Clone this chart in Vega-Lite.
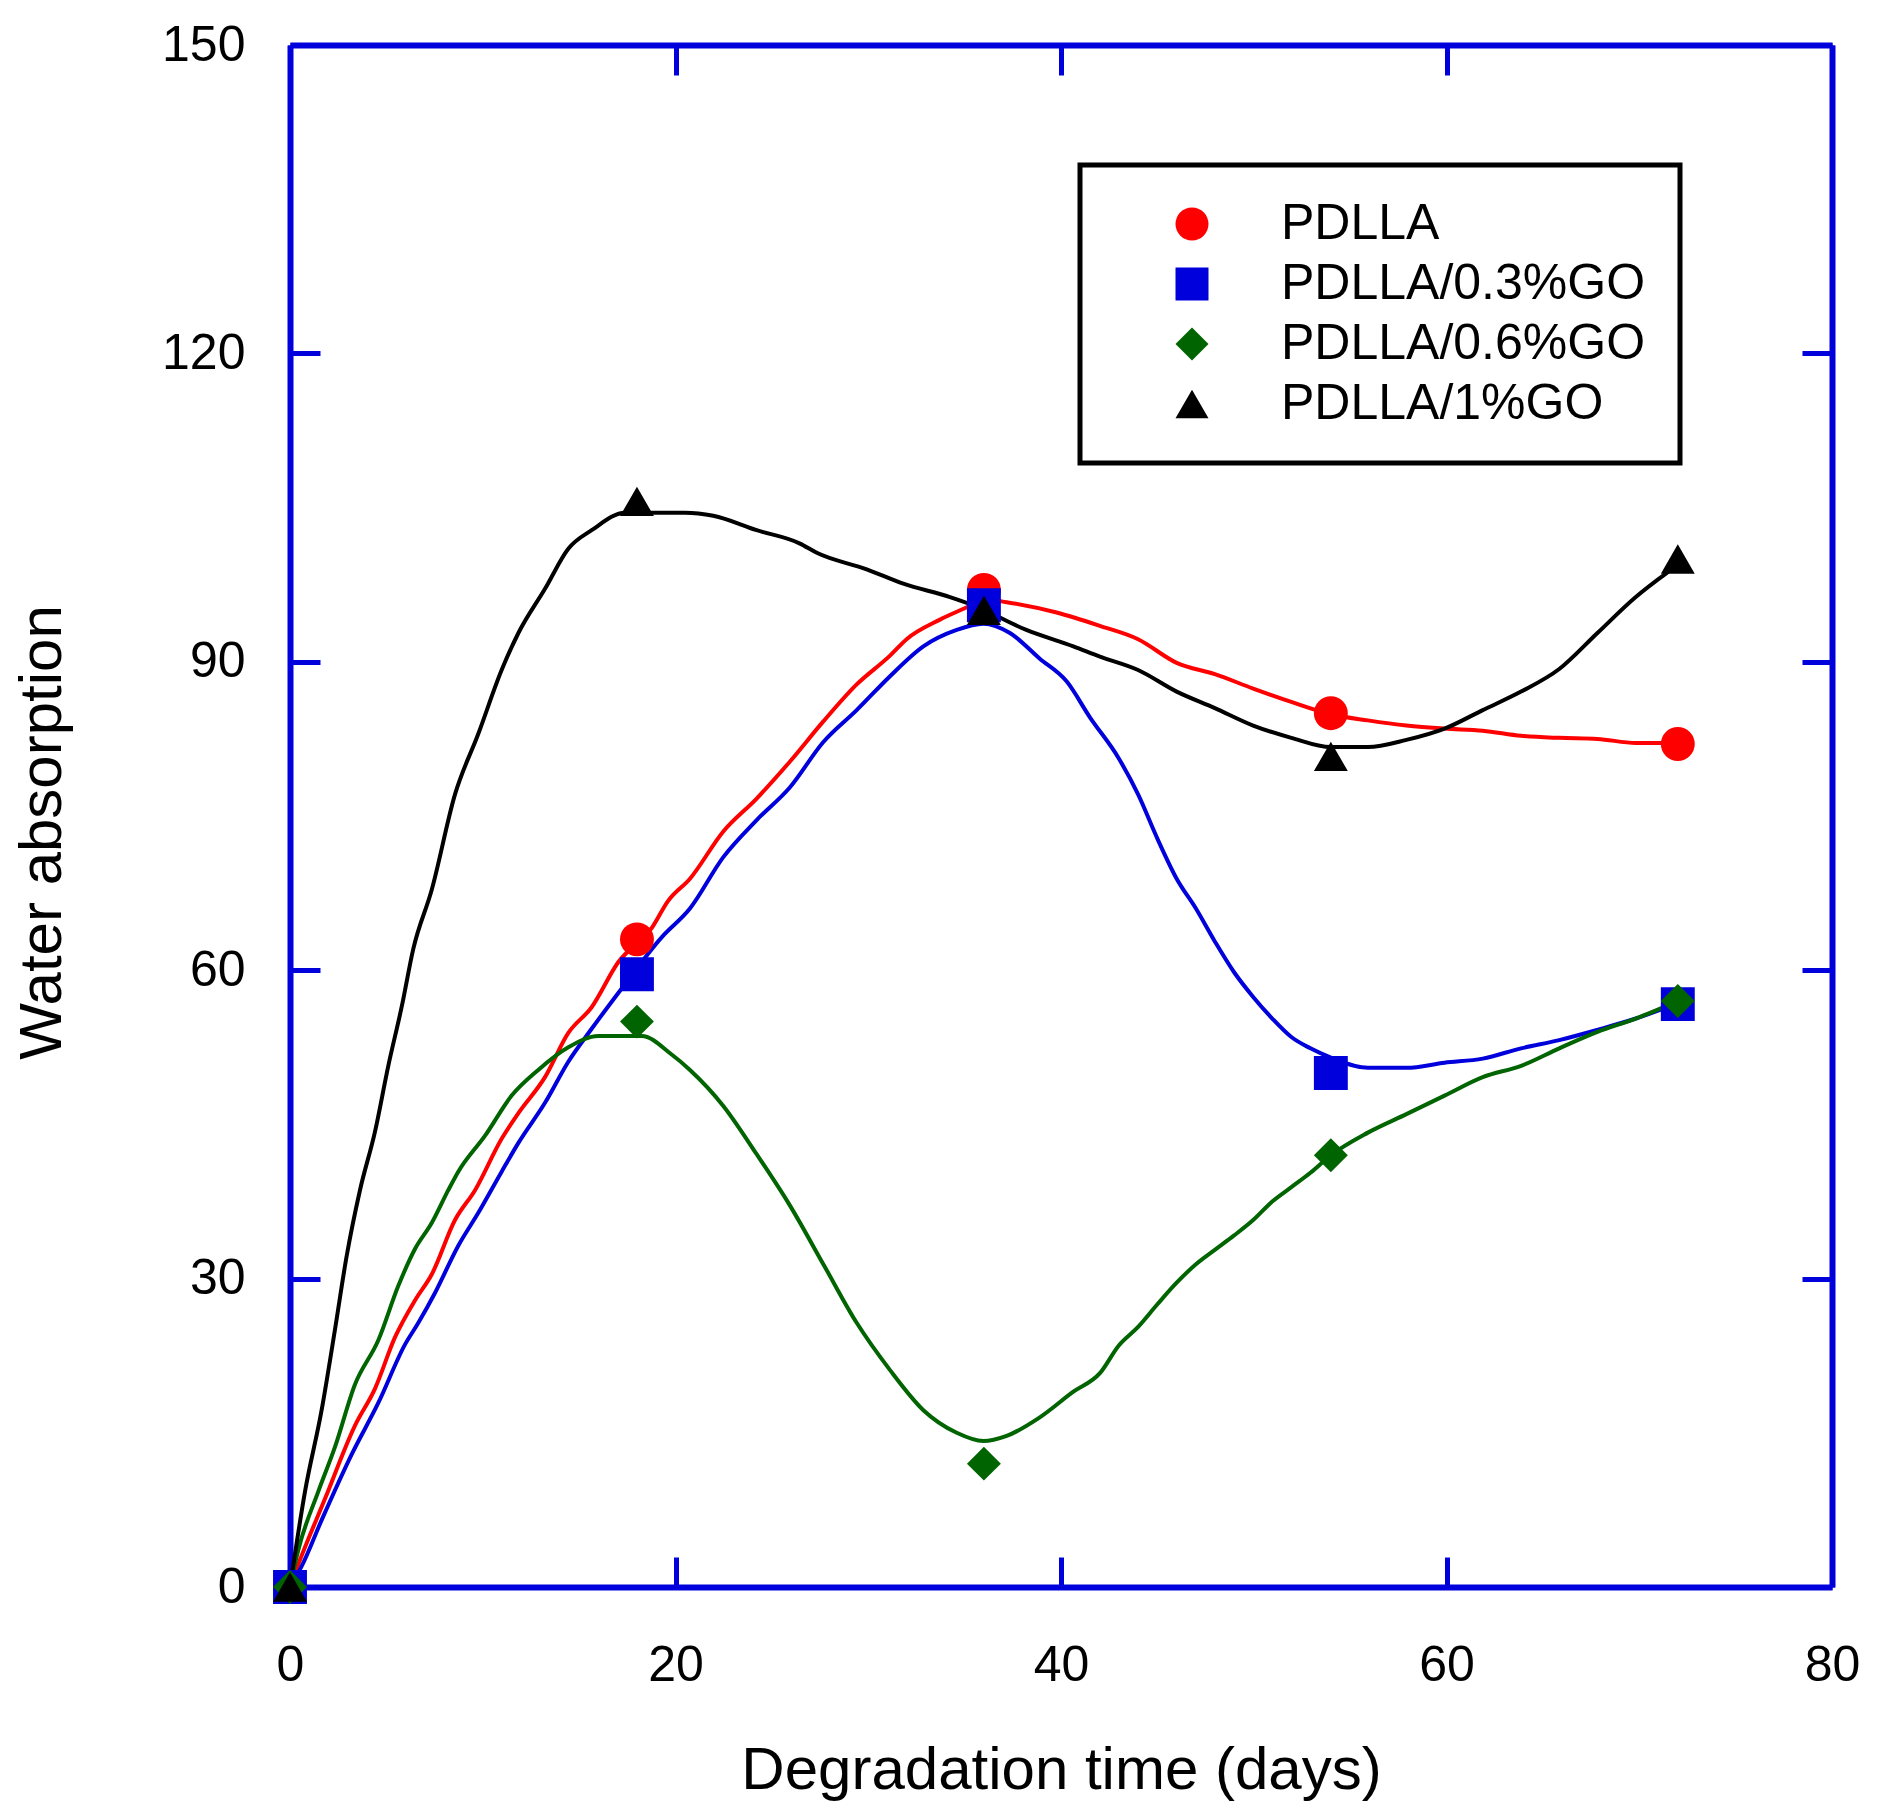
{
  "$schema": "https://vega.github.io/schema/vega-lite/v6.json",
  "description": "Water absorption vs degradation time",
  "width": 1542,
  "height": 1542,
  "autosize": "none",
  "padding": {"left": 290, "top": 45, "right": 46, "bottom": 224},
  "background": "white",
  "datasets": {
    "curve": [
      {"series": "PDLLA", "day": 0, "value": 0},
      {"series": "PDLLA", "day": 0.43, "value": 2.2},
      {"series": "PDLLA", "day": 1.82, "value": 8.6},
      {"series": "PDLLA", "day": 3.37, "value": 15.7},
      {"series": "PDLLA", "day": 4.41, "value": 19.3},
      {"series": "PDLLA", "day": 5.45, "value": 24.3},
      {"series": "PDLLA", "day": 6.49, "value": 27.9},
      {"series": "PDLLA", "day": 7.35, "value": 30.4},
      {"series": "PDLLA", "day": 8.56, "value": 35.7},
      {"series": "PDLLA", "day": 9.6, "value": 38.6},
      {"series": "PDLLA", "day": 10.98, "value": 43.6},
      {"series": "PDLLA", "day": 11.85, "value": 46.1},
      {"series": "PDLLA", "day": 13.23, "value": 49.6},
      {"series": "PDLLA", "day": 14.44, "value": 53.9},
      {"series": "PDLLA", "day": 15.65, "value": 56.4},
      {"series": "PDLLA", "day": 17.0, "value": 60.7},
      {"series": "PDLLA", "day": 18.8, "value": 64.2},
      {"series": "PDLLA", "day": 19.6, "value": 66.7},
      {"series": "PDLLA", "day": 20.75, "value": 68.9},
      {"series": "PDLLA", "day": 22.48, "value": 73.5},
      {"series": "PDLLA", "day": 24.21, "value": 76.7},
      {"series": "PDLLA", "day": 25.94, "value": 80.3},
      {"series": "PDLLA", "day": 27.67, "value": 84.2},
      {"series": "PDLLA", "day": 29.4, "value": 87.8},
      {"series": "PDLLA", "day": 31.13, "value": 90.6},
      {"series": "PDLLA", "day": 31.99, "value": 92.2},
      {"series": "PDLLA", "day": 33.72, "value": 94.1},
      {"series": "PDLLA", "day": 35.11, "value": 95.3},
      {"series": "PDLLA", "day": 36.0, "value": 96.1},
      {"series": "PDLLA", "day": 37.18, "value": 95.8},
      {"series": "PDLLA", "day": 39.77, "value": 94.8},
      {"series": "PDLLA", "day": 42.02, "value": 93.5},
      {"series": "PDLLA", "day": 44.0, "value": 92.2},
      {"series": "PDLLA", "day": 46.0, "value": 89.9},
      {"series": "PDLLA", "day": 47.98, "value": 88.8},
      {"series": "PDLLA", "day": 49.97, "value": 87.4},
      {"series": "PDLLA", "day": 51.95, "value": 86.1},
      {"series": "PDLLA", "day": 54.0, "value": 84.9},
      {"series": "PDLLA", "day": 55.92, "value": 84.3},
      {"series": "PDLLA", "day": 57.92, "value": 83.8},
      {"series": "PDLLA", "day": 59.9, "value": 83.5},
      {"series": "PDLLA", "day": 61.88, "value": 83.3},
      {"series": "PDLLA", "day": 63.87, "value": 82.8},
      {"series": "PDLLA", "day": 65.85, "value": 82.6},
      {"series": "PDLLA", "day": 67.83, "value": 82.5},
      {"series": "PDLLA", "day": 69.82, "value": 82.1},
      {"series": "PDLLA", "day": 72.0, "value": 82.1},
      {"series": "PDLLA/0.3%GO", "day": 0, "value": 0},
      {"series": "PDLLA/0.3%GO", "day": 0.6, "value": 2.0},
      {"series": "PDLLA/0.3%GO", "day": 1.64, "value": 6.5},
      {"series": "PDLLA/0.3%GO", "day": 3.2, "value": 12.9},
      {"series": "PDLLA/0.3%GO", "day": 4.58, "value": 17.9},
      {"series": "PDLLA/0.3%GO", "day": 5.97, "value": 23.6},
      {"series": "PDLLA/0.3%GO", "day": 6.66, "value": 25.7},
      {"series": "PDLLA/0.3%GO", "day": 7.52, "value": 28.6},
      {"series": "PDLLA/0.3%GO", "day": 8.73, "value": 33.2},
      {"series": "PDLLA/0.3%GO", "day": 9.77, "value": 36.4},
      {"series": "PDLLA/0.3%GO", "day": 10.98, "value": 40.4},
      {"series": "PDLLA/0.3%GO", "day": 11.85, "value": 43.2},
      {"series": "PDLLA/0.3%GO", "day": 13.23, "value": 47.1},
      {"series": "PDLLA/0.3%GO", "day": 14.44, "value": 51.1},
      {"series": "PDLLA/0.3%GO", "day": 15.65, "value": 54.3},
      {"series": "PDLLA/0.3%GO", "day": 17.2, "value": 58.2},
      {"series": "PDLLA/0.3%GO", "day": 19.28, "value": 63.2},
      {"series": "PDLLA/0.3%GO", "day": 20.75, "value": 66.0},
      {"series": "PDLLA/0.3%GO", "day": 22.48, "value": 71.0},
      {"series": "PDLLA/0.3%GO", "day": 24.21, "value": 74.6},
      {"series": "PDLLA/0.3%GO", "day": 25.94, "value": 77.8},
      {"series": "PDLLA/0.3%GO", "day": 27.67, "value": 82.2},
      {"series": "PDLLA/0.3%GO", "day": 29.4, "value": 85.3},
      {"series": "PDLLA/0.3%GO", "day": 31.13, "value": 88.6},
      {"series": "PDLLA/0.3%GO", "day": 32.86, "value": 91.5},
      {"series": "PDLLA/0.3%GO", "day": 34.59, "value": 93.1},
      {"series": "PDLLA/0.3%GO", "day": 35.97, "value": 93.7},
      {"series": "PDLLA/0.3%GO", "day": 37.35, "value": 92.8},
      {"series": "PDLLA/0.3%GO", "day": 38.9, "value": 90.3},
      {"series": "PDLLA/0.3%GO", "day": 40.29, "value": 88.1},
      {"series": "PDLLA/0.3%GO", "day": 41.5, "value": 84.6},
      {"series": "PDLLA/0.3%GO", "day": 43.0, "value": 80.6},
      {"series": "PDLLA/0.3%GO", "day": 44.0, "value": 77.1},
      {"series": "PDLLA/0.3%GO", "day": 45.0, "value": 72.8},
      {"series": "PDLLA/0.3%GO", "day": 46.0, "value": 68.9},
      {"series": "PDLLA/0.3%GO", "day": 47.0, "value": 66.0},
      {"series": "PDLLA/0.3%GO", "day": 47.98, "value": 62.8},
      {"series": "PDLLA/0.3%GO", "day": 48.98, "value": 59.8},
      {"series": "PDLLA/0.3%GO", "day": 49.97, "value": 57.4},
      {"series": "PDLLA/0.3%GO", "day": 50.96, "value": 55.3},
      {"series": "PDLLA/0.3%GO", "day": 51.95, "value": 53.5},
      {"series": "PDLLA/0.3%GO", "day": 52.94, "value": 52.4},
      {"series": "PDLLA/0.3%GO", "day": 54.0, "value": 51.5},
      {"series": "PDLLA/0.3%GO", "day": 55.92, "value": 50.5},
      {"series": "PDLLA/0.3%GO", "day": 57.92, "value": 50.5},
      {"series": "PDLLA/0.3%GO", "day": 59.9, "value": 51.0},
      {"series": "PDLLA/0.3%GO", "day": 61.88, "value": 51.4},
      {"series": "PDLLA/0.3%GO", "day": 63.87, "value": 52.4},
      {"series": "PDLLA/0.3%GO", "day": 65.85, "value": 53.2},
      {"series": "PDLLA/0.3%GO", "day": 67.83, "value": 54.2},
      {"series": "PDLLA/0.3%GO", "day": 69.82, "value": 55.3},
      {"series": "PDLLA/0.3%GO", "day": 72.0, "value": 56.8},
      {"series": "PDLLA/0.6%GO", "day": 0, "value": 0},
      {"series": "PDLLA/0.6%GO", "day": 0.43, "value": 3.6},
      {"series": "PDLLA/0.6%GO", "day": 1.47, "value": 9.3},
      {"series": "PDLLA/0.6%GO", "day": 2.33, "value": 13.6},
      {"series": "PDLLA/0.6%GO", "day": 3.37, "value": 19.7},
      {"series": "PDLLA/0.6%GO", "day": 4.58, "value": 24.0},
      {"series": "PDLLA/0.6%GO", "day": 5.62, "value": 29.3},
      {"series": "PDLLA/0.6%GO", "day": 6.49, "value": 32.9},
      {"series": "PDLLA/0.6%GO", "day": 7.35, "value": 35.4},
      {"series": "PDLLA/0.6%GO", "day": 8.21, "value": 38.6},
      {"series": "PDLLA/0.6%GO", "day": 8.73, "value": 40.4},
      {"series": "PDLLA/0.6%GO", "day": 10.12, "value": 43.9},
      {"series": "PDLLA/0.6%GO", "day": 11.5, "value": 47.8},
      {"series": "PDLLA/0.6%GO", "day": 12.88, "value": 50.3},
      {"series": "PDLLA/0.6%GO", "day": 14.44, "value": 52.5},
      {"series": "PDLLA/0.6%GO", "day": 16.0, "value": 53.6},
      {"series": "PDLLA/0.6%GO", "day": 18.25, "value": 53.6},
      {"series": "PDLLA/0.6%GO", "day": 19.8, "value": 51.8},
      {"series": "PDLLA/0.6%GO", "day": 20.75, "value": 50.3},
      {"series": "PDLLA/0.6%GO", "day": 22.48, "value": 46.8},
      {"series": "PDLLA/0.6%GO", "day": 24.21, "value": 42.1},
      {"series": "PDLLA/0.6%GO", "day": 25.94, "value": 37.1},
      {"series": "PDLLA/0.6%GO", "day": 27.67, "value": 31.4},
      {"series": "PDLLA/0.6%GO", "day": 29.4, "value": 25.7},
      {"series": "PDLLA/0.6%GO", "day": 31.13, "value": 21.1},
      {"series": "PDLLA/0.6%GO", "day": 32.86, "value": 17.2},
      {"series": "PDLLA/0.6%GO", "day": 34.59, "value": 15.0},
      {"series": "PDLLA/0.6%GO", "day": 35.97, "value": 14.2},
      {"series": "PDLLA/0.6%GO", "day": 37.18, "value": 14.7},
      {"series": "PDLLA/0.6%GO", "day": 38.9, "value": 16.5},
      {"series": "PDLLA/0.6%GO", "day": 40.64, "value": 19.0},
      {"series": "PDLLA/0.6%GO", "day": 42.02, "value": 20.8},
      {"series": "PDLLA/0.6%GO", "day": 43.0, "value": 23.5},
      {"series": "PDLLA/0.6%GO", "day": 44.0, "value": 25.3},
      {"series": "PDLLA/0.6%GO", "day": 45.0, "value": 27.5},
      {"series": "PDLLA/0.6%GO", "day": 46.0, "value": 29.6},
      {"series": "PDLLA/0.6%GO", "day": 47.0, "value": 31.4},
      {"series": "PDLLA/0.6%GO", "day": 47.98, "value": 32.8},
      {"series": "PDLLA/0.6%GO", "day": 48.98, "value": 34.2},
      {"series": "PDLLA/0.6%GO", "day": 49.97, "value": 35.7},
      {"series": "PDLLA/0.6%GO", "day": 50.96, "value": 37.5},
      {"series": "PDLLA/0.6%GO", "day": 51.95, "value": 38.9},
      {"series": "PDLLA/0.6%GO", "day": 52.94, "value": 40.3},
      {"series": "PDLLA/0.6%GO", "day": 54.0, "value": 42.0},
      {"series": "PDLLA/0.6%GO", "day": 55.92, "value": 44.2},
      {"series": "PDLLA/0.6%GO", "day": 57.92, "value": 46.0},
      {"series": "PDLLA/0.6%GO", "day": 59.9, "value": 47.8},
      {"series": "PDLLA/0.6%GO", "day": 61.88, "value": 49.6},
      {"series": "PDLLA/0.6%GO", "day": 63.87, "value": 50.7},
      {"series": "PDLLA/0.6%GO", "day": 65.85, "value": 52.4},
      {"series": "PDLLA/0.6%GO", "day": 67.83, "value": 54.0},
      {"series": "PDLLA/0.6%GO", "day": 69.82, "value": 55.3},
      {"series": "PDLLA/0.6%GO", "day": 72.0, "value": 57.0},
      {"series": "PDLLA/1%GO", "day": 0, "value": 0},
      {"series": "PDLLA/1%GO", "day": 0.78, "value": 9.3},
      {"series": "PDLLA/1%GO", "day": 1.64, "value": 17.2},
      {"series": "PDLLA/1%GO", "day": 2.33, "value": 25.0},
      {"series": "PDLLA/1%GO", "day": 2.94, "value": 32.2},
      {"series": "PDLLA/1%GO", "day": 3.63, "value": 38.6},
      {"series": "PDLLA/1%GO", "day": 4.41, "value": 44.3},
      {"series": "PDLLA/1%GO", "day": 5.1, "value": 50.7},
      {"series": "PDLLA/1%GO", "day": 5.79, "value": 56.4},
      {"series": "PDLLA/1%GO", "day": 6.4, "value": 62.1},
      {"series": "PDLLA/1%GO", "day": 7.35, "value": 67.8},
      {"series": "PDLLA/1%GO", "day": 8.56, "value": 77.1},
      {"series": "PDLLA/1%GO", "day": 9.77, "value": 83.0},
      {"series": "PDLLA/1%GO", "day": 10.98, "value": 89.2},
      {"series": "PDLLA/1%GO", "day": 11.85, "value": 92.8},
      {"series": "PDLLA/1%GO", "day": 13.23, "value": 97.1},
      {"series": "PDLLA/1%GO", "day": 14.44, "value": 101.0},
      {"series": "PDLLA/1%GO", "day": 15.65, "value": 102.8},
      {"series": "PDLLA/1%GO", "day": 17.38, "value": 104.5},
      {"series": "PDLLA/1%GO", "day": 20.5, "value": 104.5},
      {"series": "PDLLA/1%GO", "day": 21.96, "value": 104.2},
      {"series": "PDLLA/1%GO", "day": 24.21, "value": 102.8},
      {"series": "PDLLA/1%GO", "day": 26.46, "value": 101.5},
      {"series": "PDLLA/1%GO", "day": 27.33, "value": 100.6},
      {"series": "PDLLA/1%GO", "day": 29.92, "value": 99.0},
      {"series": "PDLLA/1%GO", "day": 31.82, "value": 97.6},
      {"series": "PDLLA/1%GO", "day": 34.24, "value": 96.3},
      {"series": "PDLLA/1%GO", "day": 35.45, "value": 95.5},
      {"series": "PDLLA/1%GO", "day": 38.2, "value": 93.1},
      {"series": "PDLLA/1%GO", "day": 40.64, "value": 91.5},
      {"series": "PDLLA/1%GO", "day": 42.02, "value": 90.5},
      {"series": "PDLLA/1%GO", "day": 44.0, "value": 89.2},
      {"series": "PDLLA/1%GO", "day": 46.0, "value": 87.1},
      {"series": "PDLLA/1%GO", "day": 47.98, "value": 85.5},
      {"series": "PDLLA/1%GO", "day": 49.97, "value": 83.8},
      {"series": "PDLLA/1%GO", "day": 51.95, "value": 82.6},
      {"series": "PDLLA/1%GO", "day": 54.0, "value": 81.7},
      {"series": "PDLLA/1%GO", "day": 55.92, "value": 81.7},
      {"series": "PDLLA/1%GO", "day": 57.92, "value": 82.4},
      {"series": "PDLLA/1%GO", "day": 59.9, "value": 83.5},
      {"series": "PDLLA/1%GO", "day": 61.88, "value": 85.3},
      {"series": "PDLLA/1%GO", "day": 63.87, "value": 87.1},
      {"series": "PDLLA/1%GO", "day": 65.85, "value": 89.3},
      {"series": "PDLLA/1%GO", "day": 67.83, "value": 92.8},
      {"series": "PDLLA/1%GO", "day": 69.82, "value": 96.3},
      {"series": "PDLLA/1%GO", "day": 71.4, "value": 98.6},
      {"series": "PDLLA/1%GO", "day": 72.0, "value": 99.4}
    ],
    "markers": [
      {"series": "PDLLA", "day": 0, "value": 0},
      {"series": "PDLLA", "day": 18, "value": 63},
      {"series": "PDLLA", "day": 36, "value": 97},
      {"series": "PDLLA", "day": 54, "value": 85},
      {"series": "PDLLA", "day": 72, "value": 82},
      {"series": "PDLLA/0.3%GO", "day": 0, "value": 0},
      {"series": "PDLLA/0.3%GO", "day": 18, "value": 59.6},
      {"series": "PDLLA/0.3%GO", "day": 36, "value": 95.5},
      {"series": "PDLLA/0.3%GO", "day": 54, "value": 50},
      {"series": "PDLLA/0.3%GO", "day": 72, "value": 56.7},
      {"series": "PDLLA/0.6%GO", "day": 0, "value": 0},
      {"series": "PDLLA/0.6%GO", "day": 18, "value": 55},
      {"series": "PDLLA/0.6%GO", "day": 36, "value": 12},
      {"series": "PDLLA/0.6%GO", "day": 54, "value": 42},
      {"series": "PDLLA/0.6%GO", "day": 72, "value": 57},
      {"series": "PDLLA/1%GO", "day": 0, "value": 0},
      {"series": "PDLLA/1%GO", "day": 18, "value": 105.6},
      {"series": "PDLLA/1%GO", "day": 36, "value": 95},
      {"series": "PDLLA/1%GO", "day": 54, "value": 80.8},
      {"series": "PDLLA/1%GO", "day": 72, "value": 100}
    ]
  },
  "layer": [
    {
      "data": {"name": "curve"},
      "mark": {"type": "line", "interpolate": "monotone", "strokeWidth": 4},
      "encoding": {
        "x": {
          "field": "day",
          "type": "quantitative",
          "scale": {"domain": [0, 80], "nice": false},
          "axis": {
            "orient": "bottom",
            "values": [0, 20, 40, 60, 80],
            "title": "Degradation time (days)",
            "labelPadding": 83,
            "titleY": 201,
            "titleBaseline": "alphabetic"
          }
        },
        "y": {
          "field": "value",
          "type": "quantitative",
          "scale": {"domain": [0, 150], "nice": false},
          "axis": {
            "orient": "left",
            "values": [0, 30, 60, 90, 120, 150],
            "title": "Water absorption",
            "labelPadding": 75,
            "titleX": -230,
            "titleY": 787,
            "titleBaseline": "alphabetic"
          }
        },
        "color": {
          "field": "series",
          "type": "nominal",
          "scale": {
            "domain": ["PDLLA", "PDLLA/0.3%GO", "PDLLA/0.6%GO", "PDLLA/1%GO"],
            "range": ["#FF0000", "#0000DC", "#006400", "#000000"]
          },
          "legend": null
        }
      }
    },
    {
      "data": {"name": "markers"},
      "mark": {"type": "point", "filled": true, "opacity": 1, "size": 1150, "strokeWidth": 0},
      "encoding": {
        "x": {
          "field": "day",
          "type": "quantitative",
          "scale": {"domain": [0, 80], "nice": false},
          "axis": {"orient": "top", "values": [0, 20, 40, 60, 80], "labels": false, "title": null}
        },
        "y": {
          "field": "value",
          "type": "quantitative",
          "scale": {"domain": [0, 150], "nice": false},
          "axis": {"orient": "right", "values": [0, 30, 60, 90, 120, 150], "labels": false, "title": null}
        },
        "shape": {
          "field": "series",
          "type": "nominal",
          "scale": {
            "domain": ["PDLLA", "PDLLA/0.3%GO", "PDLLA/0.6%GO", "PDLLA/1%GO"],
            "range": ["circle", "square", "diamond", "triangle-up"]
          },
          "legend": null
        },
        "color": {
          "field": "series",
          "type": "nominal",
          "scale": {
            "domain": ["PDLLA", "PDLLA/0.3%GO", "PDLLA/0.6%GO", "PDLLA/1%GO"],
            "range": ["#FF0000", "#0000DC", "#006400", "#000000"]
          },
          "legend": {
            "encode": {
              "symbols": {
                "shape": {"value": {"expr": "datum.value === 'PDLLA' ? 'M-4.73,0H4.73M-0.85,0A0.85,0.85,0,1,1,0.85,0A0.85,0.85,0,1,1,-0.85,0Z' : datum.value === 'PDLLA/0.3%GO' ? 'M-4.73,0H4.73M-1.03,-1.03H1.03V1.03H-1.03Z' : datum.value === 'PDLLA/0.6%GO' ? 'M-4.73,0H4.73M-0.72,0L0,-0.72L0.72,0L0,0.72Z' : 'M-4.73,0H4.73M0,-0.8L0.8,0.73L-0.8,0.73Z'"}},
                "fill": {"value": {"expr": "datum.value === 'PDLLA' ? '#FF0000' : datum.value === 'PDLLA/0.3%GO' ? '#0000DC' : datum.value === 'PDLLA/0.6%GO' ? '#006400' : '#000000'"}},
                "stroke": {"value": {"expr": "datum.value === 'PDLLA' ? '#FF0000' : datum.value === 'PDLLA/0.3%GO' ? '#0000DC' : datum.value === 'PDLLA/0.6%GO' ? '#006400' : '#000000'"}},
                "strokeWidth": {"value": 4},
                "opacity": {"value": 1},
                "fillOpacity": {"value": 1}
              },
              "labels": {
                "fill": {"value": {"expr": "datum.value === 'PDLLA' ? '#FF0000' : datum.value === 'PDLLA/0.3%GO' ? '#0000DC' : datum.value === 'PDLLA/0.6%GO' ? '#006400' : '#000000'"}}
              }
            }
          }
        }
      }
    }
  ],
  "resolve": {
    "axis": {"x": "independent", "y": "independent"},
    "legend": {"color": "independent", "shape": "independent"}
  },
  "config": {
    "view": {"stroke": null},
    "axis": {
      "grid": false,
      "domainColor": "#0000DC",
      "domainWidth": 6,
      "tickColor": "#0000DC",
      "tickWidth": 5,
      "tickSize": -30,
      "labelFont": "Liberation Sans",
      "labelFontSize": 50,
      "labelColor": "#000000",
      "labelFlush": false,
      "labelOverlap": false,
      "labelBound": false,
      "titleFont": "Liberation Sans",
      "titleFontSize": 60,
      "titleFontWeight": "normal",
      "titleColor": "#000000"
    },
    "legend": {
      "orient": "none",
      "legendX": 790,
      "legendY": 120,
      "title": null,
      "padding": 34,
      "strokeColor": "#000000",
      "strokeWidth": 5,
      "fillColor": "#FFFFFF",
      "labelFont": "Liberation Sans",
      "labelFontSize": 50,
      "labelLimit": 0,
      "symbolSize": 1089,
      "symbolStrokeWidth": 4,
      "symbolOffset": 53,
      "labelOffset": 64,
      "rowPadding": 10
    }
  }
}
